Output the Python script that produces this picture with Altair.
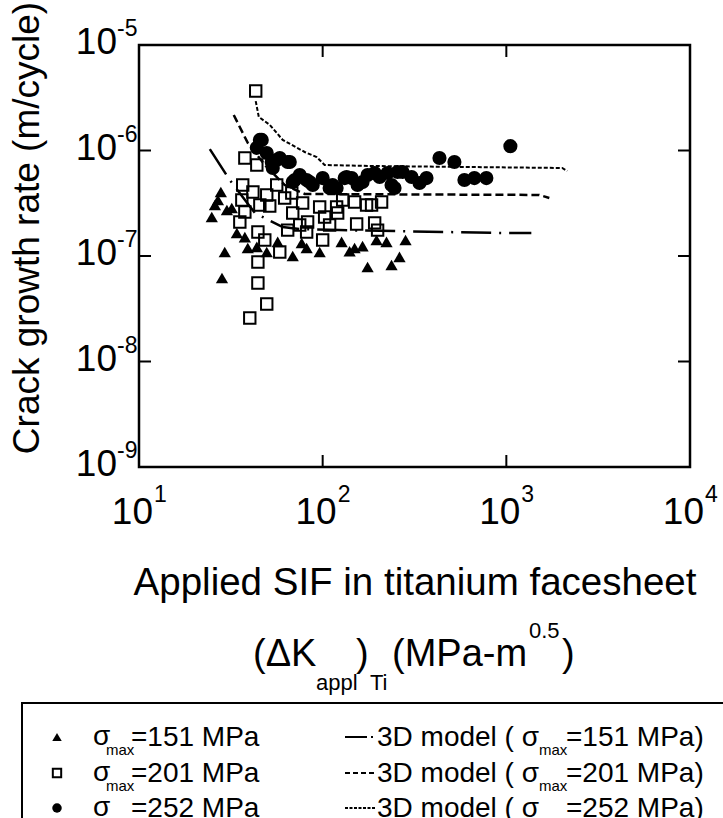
import altair as alt
import pandas as pd

W, H = 551, 422

# ---- data ----
tri_x = [27.9, 26.9, 25.9, 24.9, 30.1, 32.0, 34.1, 37.7, 39.1, 43.8, 29.3, 28.3, 49.6, 56.9,
         68.7, 76.9, 81.8, 96.3, 126.8, 140.2, 149.2, 164.9, 175.6, 196.5, 222.6, 237.1, 262, 282.6]
tri_y = [4.04e-7, 3.40e-7, 3.04e-7, 2.34e-7, 2.73e-7, 2.85e-7, 1.65e-7, 1.51e-7, 1.19e-7, 1.22e-7,
         1.09e-7, 6.18e-8, 1.09e-7, 1.36e-7, 1.0e-7, 1.33e-7, 1.19e-7, 1.09e-7, 1.36e-7, 1.11e-7,
         1.19e-7, 1.24e-7, 7.87e-8, 1.42e-7, 1.36e-7, 8.22e-8, 9.8e-8, 1.42e-7]

sq_x = [43.2, 37.7, 43.8, 36.7, 41.7, 36.3, 37.7, 35.4, 56.2, 49.6, 62.1, 45.5, 51.5, 44.4, 48.4,
        58.4, 44.4, 44.4, 49.6, 40.1, 68.7, 77.8, 82.8, 96.3, 102.5, 109.1, 119.1, 81.8, 67.9,
        75.0, 100, 128.5, 149.2, 120.7, 153.1, 173.4, 184.6, 209.3, 199.1, 191.9, 64.5]
sq_y = [3.66e-6, 8.49e-7, 7.29e-7, 4.71e-7, 4.04e-7, 3.40e-7, 2.61e-7, 2.10e-7, 4.71e-7, 3.79e-7,
        3.55e-7, 3.04e-7, 2.98e-7, 1.69e-7, 1.42e-7, 1.09e-7, 8.77e-8, 5.55e-8, 3.51e-8, 2.58e-8,
        2.56e-7, 3.18e-7, 2.10e-7, 2.91e-7, 2.34e-7, 1.97e-7, 2.91e-7, 1.69e-7, 3.95e-7, 1.97e-7,
        1.42e-7, 3.40e-7, 3.25e-7, 2.56e-7, 2.01e-7, 3.04e-7, 3.04e-7, 3.25e-7, 1.76e-7, 2.06e-7,
        1.76e-7]

ci_x = [45.5, 43.8, 49.6, 56.2, 66.2, 53.5, 75.0, 81.8, 88.3, 100, 113.3, 70.5, 64.5, 68.7, 84.9,
        109.1, 135.0, 154.9, 175.6, 191.9, 225.5, 255.8, 237.1, 119.1, 131.8, 143.9, 164.9, 204.2,
        246.2, 272.3, 304.8, 336.7, 367.6, 432.5, 521.5, 591.3, 669.9, 778.5, 1052, 46.6, 52.8, 58.4]
ci_y = [1.26e-6, 1.06e-6, 9.46e-7, 8.13e-7, 7.78e-7, 6.83e-7, 5.86e-7, 5.25e-7, 4.71e-7, 5.48e-7,
        4.71e-7, 5.25e-7, 7.78e-7, 5.02e-7, 5.02e-7, 4.41e-7, 5.61e-7, 4.71e-7, 5.86e-7, 6.12e-7,
        6.12e-7, 6.25e-7, 4.71e-7, 4.41e-7, 5.48e-7, 5.48e-7, 5.02e-7, 5.61e-7, 4.41e-7, 6.25e-7,
        5.61e-7, 4.92e-7, 5.48e-7, 8.49e-7, 7.78e-7, 5.25e-7, 5.48e-7, 5.48e-7, 1.10e-6, 1.26e-6,
        7.78e-7, 8.49e-7]

m151_x = [24.3, 31.2, 42.7, 49.6, 60.6, 75.0, 123.6, 975, 1368]
m151_y = [1.03e-6, 5.25e-7, 2.56e-7, 2.24e-7, 1.88e-7, 1.80e-7, 1.76e-7, 1.65e-7, 1.65e-7]
m201_x = [32.8, 39.1, 48.4, 62.1, 79.8, 1510, 1714]
m201_y = [2.17e-6, 1.18e-6, 7.29e-7, 4.71e-7, 3.87e-7, 3.79e-7, 3.55e-7]
m252_x = [43.2, 44.9, 51.5, 60.6, 79.8, 92.7, 102.5, 184.6, 2014, 2148]
m252_y = [2.94e-6, 2.08e-6, 1.75e-6, 1.26e-6, 9.68e-7, 8.67e-7, 7.29e-7, 7.13e-7, 6.83e-7, 6.40e-7]

x_ticks = [10, 100, 1000, 10000]
x_exps = ["1", "2", "3", "4"]
y_ticks = [1e-5, 1e-6, 1e-7, 1e-8, 1e-9]
y_exps = ["-5", "-6", "-7", "-8", "-9"]

FONT = "Liberation Sans"

xs = alt.Scale(type="log", domain=[10, 10000], nice=False)
ys = alt.Scale(type="log", domain=[1e-9, 1e-5], nice=False)


def X(f="x"):
    return alt.X(f"{f}:Q", scale=xs, axis=None)


def Y(f="y"):
    return alt.Y(f"{f}:Q", scale=ys, axis=None)


def line(xv, yv, dash, sw):
    df = pd.DataFrame({"x": xv, "y": yv, "o": range(len(xv))})
    return alt.Chart(df).mark_line(color="black", strokeDash=dash, strokeWidth=sw).encode(
        x=X(), y=Y(), order="o:Q")


lines = [
    line(m151_x, m151_y, [30, 8, 2, 8], 2.5),
    line(m201_x, m201_y, [8, 4], 2.5),
    line(m252_x, m252_y, [4, 2], 2),
]

tri = alt.Chart(pd.DataFrame({"x": tri_x, "y": tri_y})).mark_point(
    shape="triangle-up", filled=True, color="black", size=150, opacity=1).encode(x=X(), y=Y())
sq = alt.Chart(pd.DataFrame({"x": sq_x, "y": sq_y})).mark_point(
    shape="square", filled=False, color="black", strokeWidth=2, size=130, opacity=1).encode(x=X(), y=Y())
ci = alt.Chart(pd.DataFrame({"x": ci_x, "y": ci_y})).mark_point(
    shape="circle", filled=True, color="black", size=200, opacity=1).encode(x=X(), y=Y())

# ticks (inward)
xt_df = pd.DataFrame({"x": [100, 1000]})
yt_df = pd.DataFrame({"y": [1e-6, 1e-7, 1e-8]})
ticks = [
    alt.Chart(xt_df).mark_rule(color="black", strokeWidth=2).encode(x=X(), y=alt.value(H), y2=alt.value(H - 12)),
    alt.Chart(xt_df).mark_rule(color="black", strokeWidth=2).encode(x=X(), y=alt.value(0), y2=alt.value(12)),
    alt.Chart(yt_df).mark_rule(color="black", strokeWidth=2).encode(y=Y(), x=alt.value(0), x2=alt.value(12)),
    alt.Chart(yt_df).mark_rule(color="black", strokeWidth=2).encode(y=Y(), x=alt.value(W), x2=alt.value(W - 12)),
]

# tick labels
xl_df = pd.DataFrame({"x": x_ticks, "e": x_exps})
yl_df = pd.DataFrame({"y": y_ticks, "e": y_exps})
labels = [
    alt.Chart(xl_df).mark_text(font=FONT, fontSize=37, align="right", baseline="alphabetic", dx=14).encode(
        x=X(), y=alt.value(H + 57), text=alt.value("10")),
    alt.Chart(xl_df).mark_text(font=FONT, fontSize=23, align="left", baseline="alphabetic", dx=15).encode(
        x=X(), y=alt.value(H + 35), text="e:N"),
    alt.Chart(yl_df).mark_text(font=FONT, fontSize=37, align="right", baseline="alphabetic", dx=-22, dy=9).encode(
        x=alt.value(0), y=Y(), text=alt.value("10")),
    alt.Chart(yl_df).mark_text(font=FONT, fontSize=23, align="left", baseline="alphabetic", dx=-22, dy=-9).encode(
        x=alt.value(0), y=Y(), text="e:N"),
]

one = pd.DataFrame({"a": [0]})


def txt(s, px, py, size, align="left", baseline="alphabetic", angle=0):
    kw = dict(font=FONT, fontSize=size, align=align, baseline=baseline)
    if angle:
        kw["angle"] = angle
    return alt.Chart(one).mark_text(**kw).encode(
        x=alt.value(px - 139), y=alt.value(py - 45), text=alt.value(s))


titles = [
    txt("Crack growth rate (m/cycle)", 28, 228, 37, align="center", baseline="middle", angle=270),
    txt("Applied SIF in titanium facesheet", 415, 595, 38.5, align="center"),
    txt("(\u0394K", 253, 666, 38),
    txt("appl", 316, 690, 22),
    txt(")", 356, 666, 38),
    txt("Ti", 370, 690, 22),
    txt("(MPa-m", 392, 666, 38),
    txt("0.5", 529, 638, 22),
    txt(")", 562, 666, 38),
]

# legend
box = alt.Chart(one).mark_rect(fill=None, stroke="black", strokeWidth=2).encode(
    x=alt.value(22 - 139), x2=alt.value(740 - 139), y=alt.value(703 - 45), y2=alt.value(840 - 45))

leg = [box]
rows = [(737, "triangle-up", True, "151", [22, 4, 2, 8]),
        (773, "square", False, "201", [5, 3]),
        (808, "circle", True, "252", [3, 1.5])]
for ry, shp, fil, lab, dash in rows:
    leg.append(alt.Chart(one).mark_point(shape=shp, filled=fil, color="black", strokeWidth=2,
                                         size=90 if shp != "square" else 70, opacity=1).encode(
        x=alt.value(57 - 139), y=alt.value(ry - 45)))
    leg.append(txt("\u03c3", 93, ry + 8, 28))
    leg.append(txt("max", 106, ry + 18, 15))
    leg.append(txt(f"={lab} MPa", 131, ry + 9, 28))
    leg.append(alt.Chart(one).mark_rule(color="black", strokeWidth=2, strokeDash=dash).encode(
        x=alt.value(345 - 139), x2=alt.value(376 - 139), y=alt.value(ry - 45)))
    leg.append(txt("3D model ( \u03c3", 377, ry + 9, 28))
    leg.append(txt("max", 539, ry + 18, 15))
    leg.append(txt(f"={lab} MPa)", 566, ry + 9, 28))

chart = alt.layer(*lines, tri, sq, ci, *ticks, *labels, *titles, *leg).properties(
    width=W, height=H,
    padding={"left": 139, "top": 45, "right": 33, "bottom": 351},
    autosize=alt.AutoSizeParams(type="none"),
).configure_view(stroke="black", strokeWidth=2.5)

chart.save("out.html", embed_options={"renderer": "svg", "actions": False})
